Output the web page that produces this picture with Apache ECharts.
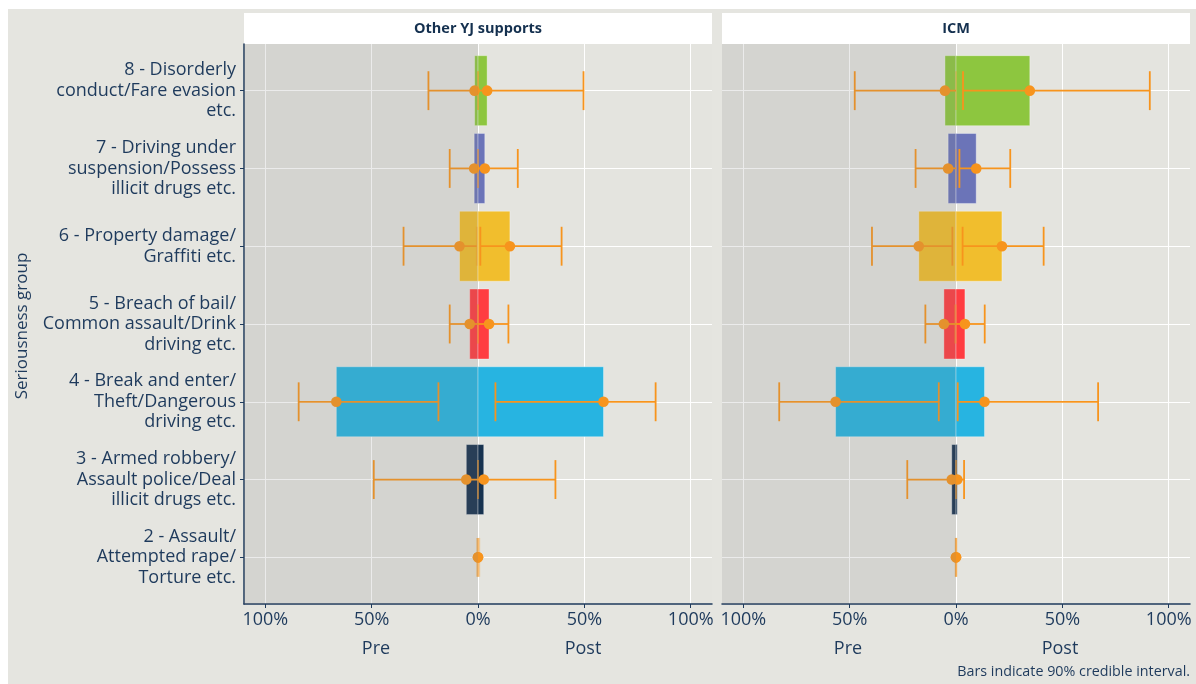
<!DOCTYPE html>
<html><head><meta charset="utf-8">
<script src="https://cdn.jsdelivr.net/npm/echarts@6/dist/echarts.min.js"></script>
<style>
html,body{margin:0;padding:0;background:#ffffff;}
#bg{position:absolute;left:8px;top:9px;width:1188px;height:675px;background:#E5E5E0;}
#chart{position:absolute;left:0;top:0;width:1196px;height:684px;}
</style></head><body>
<div id="bg"></div><div id="chart"></div>
<script>
// Categories, bottom (index 1) to top (index 7)
const categories = [
  "2 - Assault/\nAttempted rape/\nTorture etc.",
  "3 - Armed robbery/\nAssault police/Deal\nillicit drugs etc.",
  "4 - Break and enter/\nTheft/Dangerous\ndriving etc.",
  "5 - Breach of bail/\nCommon assault/Drink\ndriving etc.",
  "6 - Property damage/\nGraffiti etc.",
  "7 - Driving under\nsuspension/Possess\nillicit drugs etc.",
  "8 - Disorderly\nconduct/Fare evasion\netc."
];
const panelTitles = ["Other YJ supports", "ICM"];
const barColors = ["rgba(0,0,0,0)", "#17324F", "#27B4E1", "#FF3C41", "#F1BE2D", "#6B74B8", "#8DC63F"];
const tickValues = [-1, -0.5, 0, 0.5, 1];

// Other YJ supports
const yjPreMean  = [0, -0.055, -0.666, -0.039, -0.087, -0.018, -0.016];
const yjPreLo    = [-0.005, -0.49, -0.843, -0.133, -0.35, -0.133, -0.233];
const yjPreHi    = [0, 0, -0.186, 0, -0.006, 0, 0];
const yjPostMean = [0, 0.027, 0.59, 0.052, 0.15, 0.032, 0.043];
const yjPostLo   = [0, 0, 0.082, 0, 0.011, 0, 0];
const yjPostHi   = [0.006, 0.364, 0.835, 0.143, 0.393, 0.187, 0.496];
// ICM
const icmPreMean  = [0, -0.02, -0.566, -0.057, -0.175, -0.037, -0.052];
const icmPreLo    = [-0.002, -0.229, -0.831, -0.144, -0.395, -0.19, -0.476];
const icmPreHi    = [0, 0, -0.081, 0, -0.017, 0, 0];
const icmPostMean = [0, 0.006, 0.134, 0.042, 0.216, 0.095, 0.347];
const icmPostLo   = [0, 0, 0.008, -0.005, 0.031, 0.016, 0.033];
const icmPostHi   = [0.002, 0.038, 0.668, 0.135, 0.412, 0.255, 0.911];
</script>
<script>
const FONT = "'Open Sans', 'Noto Sans', sans-serif";
const NAVY = "#1E3A5C";
const chart = echarts.init(document.getElementById('chart'), null, {renderer: 'canvas'});

function buildItems(preMean, preLo, preHi, postMean, postLo, postHi) {
  const items = [];
  for (let i = 0; i < categories.length; i++) {
    items.push([i + 1, preMean[i], preLo[i], preHi[i], i]);
    items.push([i + 1, postMean[i], postLo[i], postHi[i], i]);
  }
  return items;
}
const panelData = [
  buildItems(yjPreMean, yjPreLo, yjPreHi, yjPostMean, yjPostLo, yjPostHi),
  buildItems(icmPreMean, icmPreLo, icmPreHi, icmPostMean, icmPostLo, icmPostHi)
];

function renderBar(params, api) {
  const y = api.value(0), m = api.value(1), ci = api.value(4);
  if (m === 0) return null;
  const a = api.coord([0, y + 0.45]);
  const b = api.coord([m, y - 0.45]);
  return {
    type: 'rect',
    shape: {x: Math.min(a[0], b[0]), y: Math.min(a[1], b[1]), width: Math.abs(b[0] - a[0]), height: Math.abs(b[1] - a[1])},
    style: {fill: barColors[ci], stroke: 'rgba(255,255,255,0.35)', lineWidth: 1}
  };
}
function renderErr(params, api) {
  const y = api.value(0), m = api.value(1), lo = api.value(2), hi = api.value(3);
  const pl = api.coord([lo, y]), ph = api.coord([hi, y]), pm = api.coord([m, y]);
  const ct = api.coord([lo, y + 0.25])[1], cb = api.coord([lo, y - 0.25])[1];
  const st = {stroke: '#F7941D', lineWidth: 1.8};
  const capAt = (x) => ({type: 'line', shape: {x1: x, y1: ct, x2: x, y2: cb},
    style: {stroke: Math.abs(x - api.coord([0, y])[0]) < 1.5 ? 'rgba(247,148,29,0.35)' : '#F7941D', lineWidth: 1.8}});
  return {
    type: 'group',
    children: [
      {type: 'line', shape: {x1: pl[0], y1: pl[1], x2: ph[0], y2: ph[1]}, style: st},
      capAt(pl[0]),
      capAt(ph[0]),
      {type: 'circle', shape: {cx: pm[0], cy: pm[1], r: 5.3}, style: {fill: '#F7941D'}}
    ]
  };
}
function renderShade(params, api) {
  const a = api.coord([-1.1, 7.6]), b = api.coord([0, 0.4]);
  return {type: 'rect', shape: {x: a[0], y: a[1], width: b[0] - a[0], height: b[1] - a[1]},
    style: {fill: 'rgba(128,128,128,0.16)'}};
}

const grids = [], xAxes = [], yAxes = [], series = [], graphics = [];
const lefts = [244, 722];
for (let p = 0; p < 2; p++) {
  grids.push({left: lefts[p], top: 44, width: 468, height: 560, show: true, backgroundColor: '#E4E4DF', borderWidth: 0});
  xAxes.push({
    type: 'value', gridIndex: p, min: -1.1, max: 1.1,
    axisLine: {show: true, onZero: false, lineStyle: {color: NAVY, width: 1.5}},
    axisTick: {show: true, customValues: tickValues, length: 4, lineStyle: {color: NAVY}},
    axisLabel: {customValues: tickValues, formatter: v => Math.round(Math.abs(v) * 100) + '%',
      fontSize: 18, color: NAVY, fontFamily: FONT, margin: 7},
    splitLine: {show: true, lineStyle: {color: '#FFFFFF', width: 1}}
  });
  yAxes.push({
    type: 'value', gridIndex: p, min: 0.4, max: 7.6,
    axisLine: {show: p === 0, onZero: false, lineStyle: {color: NAVY, width: 1.5}},
    axisTick: {show: p === 0, customValues: [1, 2, 3, 4, 5, 6, 7], length: 4, lineStyle: {color: NAVY}},
    axisLabel: {show: p === 0, customValues: [1, 2, 3, 4, 5, 6, 7], formatter: v => categories[Math.round(v) - 1],
      fontSize: 18, lineHeight: 20.5, color: NAVY, fontFamily: FONT, margin: 8, align: 'right'},
    splitLine: {show: true, lineStyle: {color: '#FFFFFF', width: 1}}
  });
  series.push({type: 'custom', xAxisIndex: p, yAxisIndex: p, z: 2, renderItem: renderBar,
    encode: {x: 1, y: 0}, data: panelData[p], silent: true});
  series.push({type: 'custom', xAxisIndex: p, yAxisIndex: p, z: 3, renderItem: renderErr,
    encode: {x: 1, y: 0}, data: panelData[p], silent: true});
  series.push({type: 'custom', xAxisIndex: p, yAxisIndex: p, z: 4, renderItem: renderShade,
    encode: {x: 0, y: 1}, data: [[-1.1, 0.4]], silent: true});
  graphics.push({type: 'rect', left: lefts[p], top: 13, shape: {width: 468, height: 31}, style: {fill: '#FFFFFF'}});
  graphics.push({type: 'text', x: lefts[p] + 234, y: 29, style: {text: panelTitles[p], fill: '#14304F',
    font: "bold 14.5px " + FONT, textAlign: 'center', textVerticalAlign: 'middle'}});
}
const prePost = [[376, 'Pre'], [583, 'Post'], [848, 'Pre'], [1060, 'Post']];
prePost.forEach(([x, t]) => graphics.push({type: 'text', x: x, y: 649,
  style: {text: t, fill: NAVY, font: "18px " + FONT, textAlign: 'center', textVerticalAlign: 'middle'}}));
graphics.push({type: 'text', x: 22, y: 326, rotation: Math.PI / 2,
  style: {text: 'Seriousness group', fill: NAVY, font: "17px " + FONT, textAlign: 'center', textVerticalAlign: 'middle'}});
graphics.push({type: 'text', x: 1190, y: 672,
  style: {text: 'Bars indicate 90% credible interval.', fill: NAVY, font: "14.3px " + FONT, textAlign: 'right', textVerticalAlign: 'middle'}});

chart.setOption({
  animation: false,
  backgroundColor: 'transparent',
  grid: grids, xAxis: xAxes, yAxis: yAxes, series: series, graphic: graphics
});
</script>
</body></html>
